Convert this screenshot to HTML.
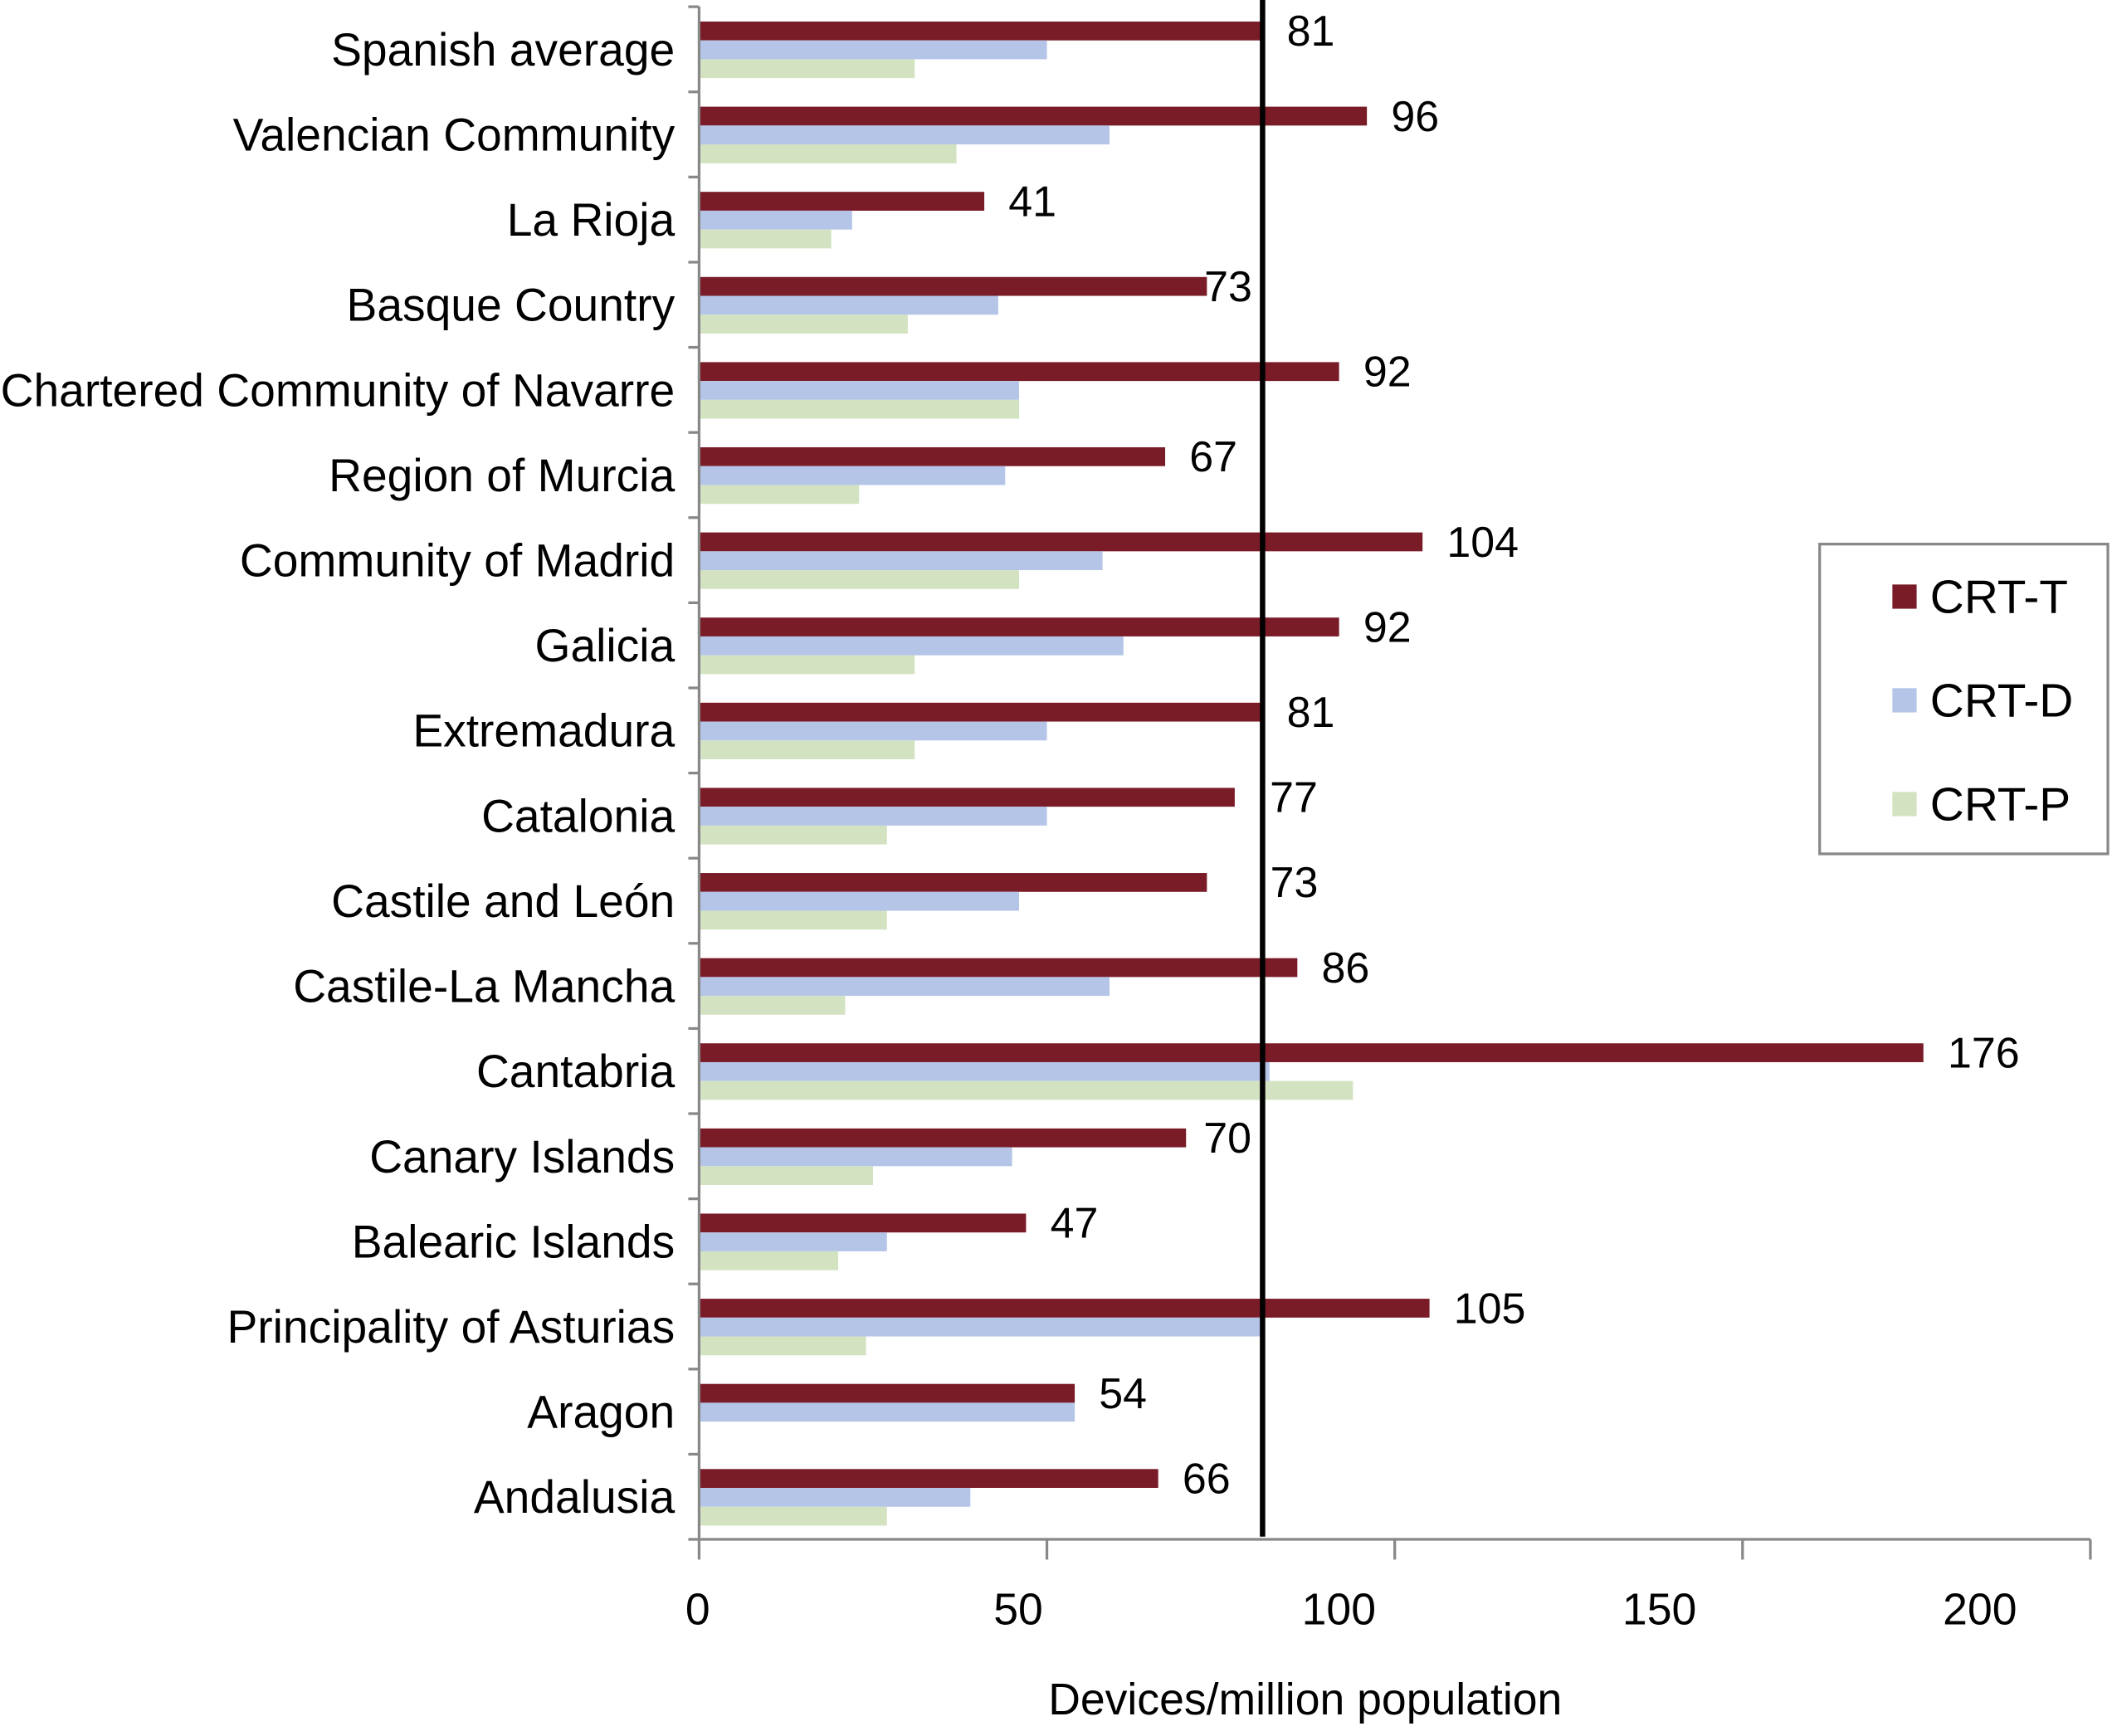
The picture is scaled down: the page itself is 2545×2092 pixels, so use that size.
<!DOCTYPE html>
<html><head><meta charset="utf-8"><style>
html,body{margin:0;padding:0;background:#fff;}
svg{display:block;font-family:"Liberation Sans",Arial,sans-serif;}
</style></head><body>
<svg id="chart" width="2545" height="2092" viewBox="0 0 1568 1289" xmlns="http://www.w3.org/2000/svg"></svg>
<script>
const categories=["Spanish average","Valencian Community","La Rioja","Basque Country","Chartered Community of Navarre","Region of Murcia","Community of Madrid","Galicia","Extremadura","Catalonia","Castile and León","Castile-La Mancha","Cantabria","Canary Islands","Balearic Islands","Principality of Asturias","Aragon","Andalusia"];
const crtT=[81,96,41,73,92,67,104,92,81,77,73,86,176,70,47,105,54,66];
const crtD=[50,59,22,43,46,44,58,61,50,50,46,59,82,45,27,81,54,39];
const crtP=[31,37,19,30,46,23,46,31,31,27,27,21,94,25,20,24,0,27];
const xTicks=[0,50,100,150,200];
const refValue=81;

const svg=document.getElementById('chart');
const NS="http://www.w3.org/2000/svg";
const x0=519,xMax=1552,yTop=5,yBottom=1143;
const xs=v=>x0+(v/200)*(xMax-x0);
const xl=v=>518+(v/200)*(1470-518);
const band=(yBottom-yTop)/categories.length;
const labelShift={3:-2,9:26,10:47,13:13};
function mk(t,a,parent){const e=document.createElementNS(NS,t);for(const k in a)e.setAttribute(k,a[k]);(parent||svg).appendChild(e);return e;}

const colors={T:"#7a1c28",D:"#b4c5e8",P:"#d3e3c2"};
categories.forEach((c,i)=>{
  const y=yTop+i*band;
  const g0=y+11;
  const bt=mk('rect',{x:x0,y:g0,width:xs(crtT[i])-x0,height:14,fill:colors.T});
  
  
  const bd=mk('rect',{x:x0,y:g0+14,width:xs(crtD[i])-x0,height:14,fill:colors.D});
  
  
  const bp=mk('rect',{x:x0,y:g0+28,width:xs(crtP[i])-x0,height:14,fill:colors.P});
  
  
  const off=(i in labelShift)?labelShift[i]:18;
  const vl=mk('text',{x:xs(crtT[i])+off,y:g0+18,'font-size':32,fill:'#000'});
  vl.textContent=crtT[i];
  
  
  const cl=mk('text',{x:501,y:y+band/2+12,'font-size':34,'text-anchor':'end',fill:'#000'});
  cl.textContent=c;
  
  
});
for(let i=0;i<=categories.length;i++){
  const y=yTop+i*band;
  const t=mk('line',{x1:511,x2:519,y1:y,y2:y,stroke:'#888','stroke-width':2});
  
  
}
const ya=mk('line',{x1:519,x2:519,y1:yTop,y2:yBottom,stroke:'#888','stroke-width':2});


const xa=mk('line',{x1:519,x2:xMax,y1:yBottom,y2:yBottom,stroke:'#888','stroke-width':2});


xTicks.forEach(v=>{
  const t=mk('line',{x1:xs(v),x2:xs(v),y1:yBottom,y2:yBottom+15,stroke:'#888','stroke-width':2});
  
  
  const l=mk('text',{x:xl(v),y:1206,'font-size':33,'text-anchor':'middle'});
  l.textContent=v;
  
  
});
const ref=mk('line',{x1:xs(refValue),x2:xs(refValue),y1:0,y2:1141,stroke:'#000','stroke-width':4});


const xt=mk('text',{x:969,y:1273,'font-size':33,'text-anchor':'middle'});
xt.textContent="Devices/million population";


const lg=mk('g',{});


mk('rect',{x:1351,y:404,width:214,height:230,fill:'#fff',stroke:'#888','stroke-width':2},lg);
[["CRT-T",colors.T,443],["CRT-D",colors.D,520],["CRT-P",colors.P,597]].forEach(([n,c,y])=>{
  const e=mk('g',{},lg);
  
  
  mk('rect',{x:1405,y:y-9,width:18,height:18,fill:c},e);
  const t=mk('text',{x:1433,y:y+12,'font-size':35},e);
  t.textContent=n;
});
</script>
</body></html>
